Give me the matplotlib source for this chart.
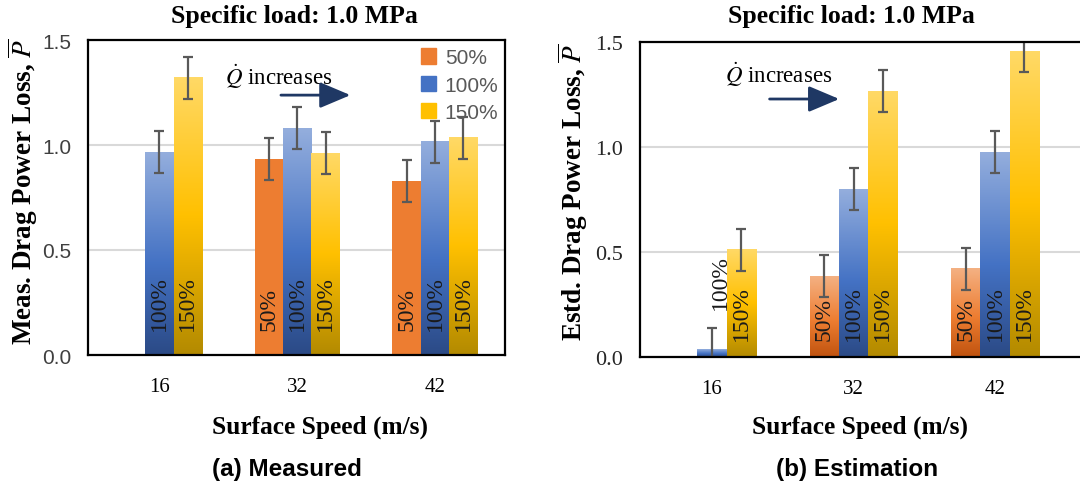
import numpy as np
import matplotlib
matplotlib.use("Agg")
import matplotlib.pyplot as plt
from matplotlib.colors import LinearSegmentedColormap
from matplotlib.patches import Patch

plt.rcParams['mathtext.fontset'] = 'stix'

SERIF = 'Liberation Serif'
SANS = 'Liberation Sans'

# surface speeds (m/s) and flow rate cases
speeds = ['16', '32', '42']
flows = ['50%', '100%', '150%']

# measured drag power loss (normalised)
meas_50 = [np.nan, 0.935, 0.83]
meas_100 = [0.965, 1.08, 1.015]
meas_150 = [1.32, 0.96, 1.035]
meas_err = [0.1, 0.1, 0.1]

# estimated drag power loss (normalised)
est_50 = [np.nan, 0.385, 0.42]
est_100 = [0.038, 0.80, 0.975]
est_150 = [0.51, 1.265, 1.455]
est_err = [0.1, 0.1, 0.1]

orange_cm = LinearSegmentedColormap.from_list('o', [(0, '#C0530F'), (0.45, '#ED7D31'), (1, '#F4B183')])
blue_cm = LinearSegmentedColormap.from_list('b', [(0, '#2B4A86'), (0.45, '#4472C4'), (1, '#94AEDD')])
yellow_cm = LinearSegmentedColormap.from_list('y', [(0, '#B38A00'), (0.5, '#FFC000'), (1, '#FFD966')])
navy = '#1F3864'
W = 0.206

fig = plt.figure(figsize=(10.8, 4.89), dpi=100)


def px(x, y):
    return x / 1080, 1 - y / 489


def grad_bars(ax, xs, vals, cmap, solid=None):
    bars = ax.bar(xs, vals, W, color=solid if solid else 'none', linewidth=0, zorder=2)
    if solid is None:
        g = np.linspace(0, 1, 256).reshape(-1, 1)
        for r in bars:
            h = r.get_height()
            if np.isnan(h) or h == 0:
                continue
            ax.imshow(g, extent=[r.get_x(), r.get_x() + r.get_width(), 0, h],
                      origin='lower', cmap=cmap, aspect='auto', zorder=2)
    return bars


def panel(ax, v50, v100, v150, err, solid_orange, lab_y, ytick_font, ytick_color, ytick_size):
    x = np.arange(len(speeds))
    grad_bars(ax, x - W, v50, orange_cm, '#ED7D31' if solid_orange else None)
    grad_bars(ax, x, v100, blue_cm)
    grad_bars(ax, x + W, v150, yellow_cm)
    for off, vals in [(-W, v50), (0, v100), (W, v150)]:
        ax.errorbar(x + off, vals, yerr=err, fmt='none', ecolor='#595959',
                    elinewidth=1.6, capsize=3.8, capthick=1.6, zorder=3)
    ax.set_ylim(0, 1.5)
    ax.set_yticks([0, 0.5, 1.0, 1.5])
    ax.set_yticklabels(['0.0', '0.5', '1.0', '1.5'], fontfamily=ytick_font,
                       fontsize=ytick_size, color=ytick_color)
    ax.set_xticks(x)
    ax.set_xticklabels(speeds, fontfamily=SERIF, fontsize=15)
    ax.tick_params(axis='both', length=0)
    ax.tick_params(axis='y', pad=12)
    ax.tick_params(axis='x', pad=16)
    ax.yaxis.grid(True, color='#D9D9D9', linewidth=1.5)
    ax.set_axisbelow(True)
    for s in ax.spines.values():
        s.set_linewidth(1.6)
        s.set_color('black')
        s.set_zorder(4)
    # in-bar labels
    for i in range(len(speeds)):
        for off, vals, name in [(-W, v50, '50%'), (0, v100, '100%'), (W, v150, '150%')]:
            if np.isnan(vals[i]) or vals[i] < lab_y + 0.3:
                continue
            ax.text(i + off, lab_y, name, rotation=90, ha='center', va='bottom',
                    fontfamily=SERIF, fontsize=17, color='#1a1a1a', zorder=5)


def flow_arrow(ax, x0, x1, y):
    ax.annotate('', xy=(x1, y), xytext=(x0, y), xycoords='axes fraction',
                arrowprops=dict(arrowstyle='-|>,head_length=0.9,head_width=0.38',
                                color=navy, lw=2, mutation_scale=21))


# (a) measured
ax1 = fig.add_axes([88 / 1080, 1 - 356 / 489, 417 / 1080, 315 / 489])
panel(ax1, meas_50, meas_100, meas_150, meas_err, True, 0.12, SANS, '#404040', 15)
ax1.set_xlim(-0.519, 2.508)
ax1.legend(handles=[Patch(color='#ED7D31'), Patch(color='#4472C4'), Patch(color='#FFC000')],
           labels=flows, loc='upper right', bbox_to_anchor=(1.012, 1.01), frameon=False,
           borderaxespad=0.15, prop={'family': SANS, 'size': 15}, labelcolor='#595959',
           handlelength=0.75, handleheight=0.75, handletextpad=0.4, labelspacing=0.4)
ax1.text(0.329, 0.886, r'$\dot{Q}$ increases', transform=ax1.transAxes, ha='left', va='center',
         fontfamily=SERIF, fontsize=16.5)
flow_arrow(ax1, 0.456, 0.636, 0.825)

# (b) estimation
ax2 = fig.add_axes([640 / 1080, 1 - 358 / 489, 445 / 1080, 315 / 489])
panel(ax2, est_50, est_100, est_150, est_err, False, 0.08, SERIF, '#262626', 16)
ax2.set_xlim(-0.509, 2.636)
ax2.text(0.0 + 0.06, 0.23, '100%', rotation=90, ha='center', va='bottom',
         fontfamily=SERIF, fontsize=17, color='#1a1a1a', zorder=5)
ax2.text(0.191, 0.898, r'$\dot{Q}$ increases', transform=ax2.transAxes, ha='left', va='center',
         fontfamily=SERIF, fontsize=16.5)
flow_arrow(ax2, 0.285, 0.454, 0.819)

# titles, axis labels, captions
for cx, ttl, xl, cap, ylx, ylab in [
        (294, 'Specific load: 1.0 MPa', 'Surface Speed (m/s)', '(a) Measured', 23,
         r'Meas. Drag Power Loss, $\overline{P}$'),
        (851, 'Specific load: 1.0 MPa', 'Surface Speed (m/s)', '(b) Estimation', 573,
         r'Estd. Drag Power Loss, $\overline{P}$')]:
    fig.text(*px(cx, 17), ttl, ha='center', va='center', fontfamily=SERIF,
             fontweight='bold', fontsize=18.5)
    fig.text(*px(cx + (26 if cx < 500 else 9), 427), xl, ha='center', va='center',
             fontfamily=SERIF, fontweight='bold', fontsize=18.3)
    fig.text(*px(cx - 7 if cx < 500 else cx + 6, 470), cap, ha='center', va='center',
             fontfamily=SANS, fontweight='bold', fontsize=17.5)
    fig.text(*px(ylx, 192), ylab, rotation=90, ha='center', va='center',
             fontfamily=SERIF, fontweight='bold', fontsize=19.5)

fig.savefig('out.png', dpi=100)
